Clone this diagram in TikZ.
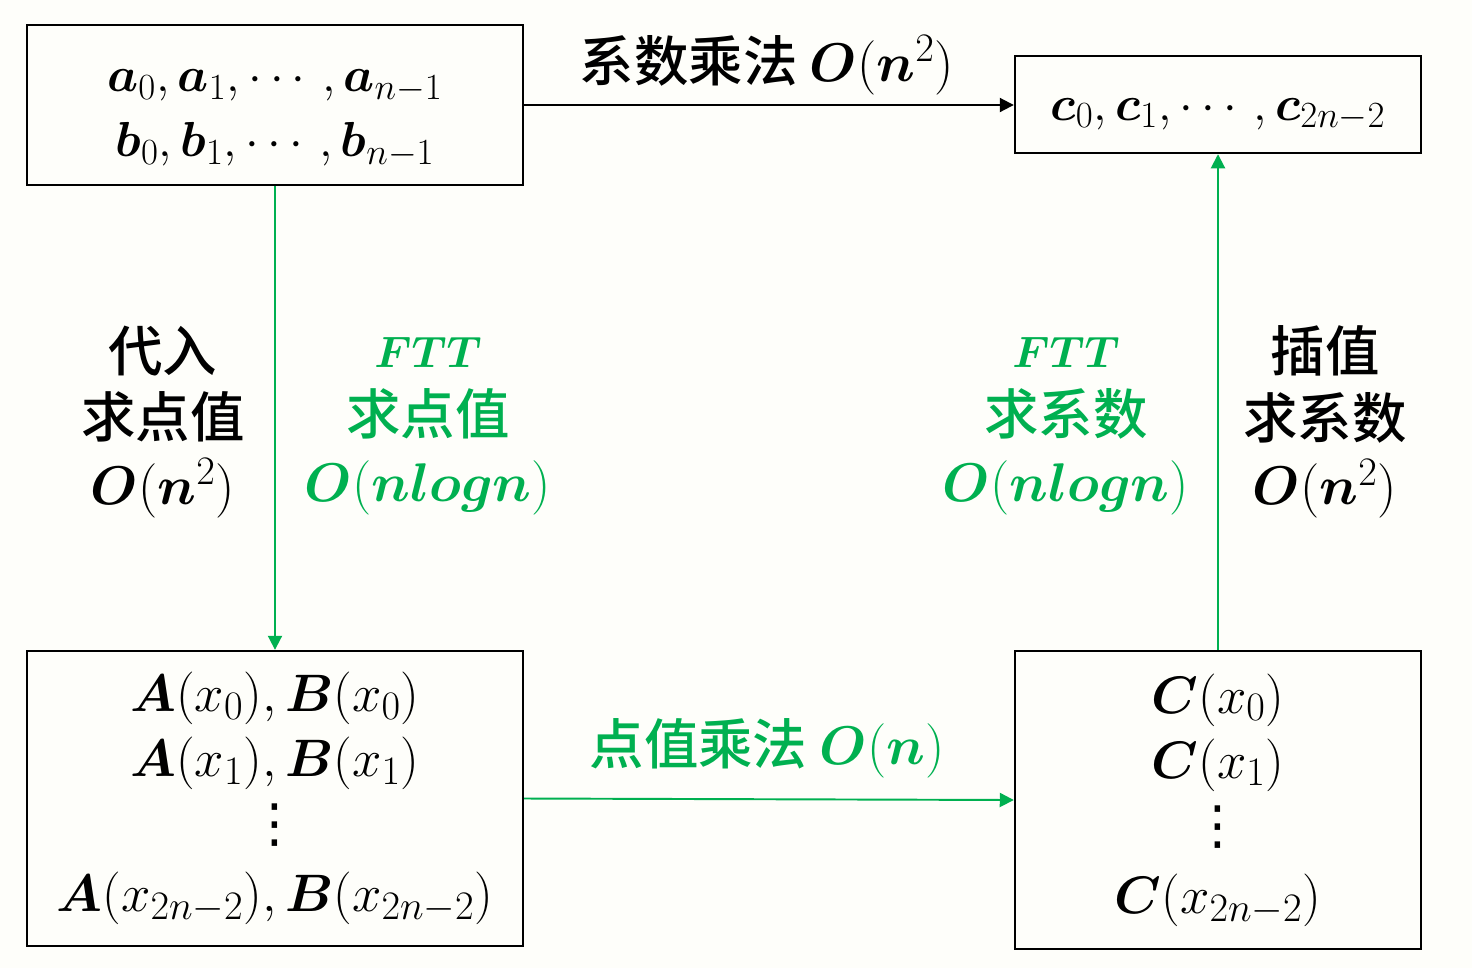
\RequirePackage{fix-cm}
\documentclass[tikz,border=0pt]{standalone}
\usepackage{amsmath,bm}
\usepackage{fontspec}
\newfontfamily\cjk{Noto Sans CJK SC Medium}
\newfontfamily\symbfont{DejaVu Sans}
\usetikzlibrary{arrows.meta,positioning}
\definecolor{fftgreen}{RGB}{0,176,80}
\definecolor{paper}{RGB}{254,254,250}
\DeclareMathSizes{25}{25}{19}{14}
\DeclareMathSizes{28}{28}{21}{15}
\DeclareMathSizes{30}{30}{23}{17}
\DeclareMathSizes{31}{31}{23}{17}
\newcommand{\cost}[1]{{\fontsize{31}{38}\selectfont$#1$}}
\newcommand{\fttname}{{\fontsize{25}{38}\selectfont$\bm{FTT}$}}
\newcommand{\tallvdots}{{\symbfont\fontsize{30}{30}\selectfont ⋮}}

\begin{document}
\begin{tikzpicture}[x=0.02cm,y=-0.02cm,line width=1.1pt,
                    >={Triangle[length=8pt,width=8pt]},
                    value box/.style={draw,line width=1.4pt,rectangle,inner sep=0pt,
                                      align=center,font=\fontsize{28}{37}\selectfont},
                    point box/.style={value box,font=\fontsize{30}{37}\selectfont},
                    step label/.style={align=center,font=\cjk\fontsize{31}{38}\selectfont},
                    green step/.style={step label,text=fftgreen}]

  \fill[paper] (0,0) rectangle (1472,968);

  % boxes
  \node[value box,minimum width=9.92cm,minimum height=3.2cm] (coef) at (275,105)
    {\rule{0pt}{28pt}$\bm{a}_0,\bm{a}_1,\cdots,\bm{a}_{n-1}$\\
     $\bm{b}_0,\bm{b}_1,\cdots,\bm{b}_{n-1}$};
  \node[value box,minimum width=8.12cm,minimum height=1.94cm] (res) at (1218,104.5)
    {\rule{0pt}{24pt}$\bm{c}_0,\bm{c}_1,\cdots,\bm{c}_{2n-2}$};
  \node[point box,minimum width=9.92cm,minimum height=5.9cm] (pv) at (275,798.5)
    {$\bm{A}(x_0),\bm{B}(x_0)$\\
     $\bm{A}(x_1),\bm{B}(x_1)$\\
     \tallvdots\\[3pt]
     $\bm{A}(x_{2n-2}),\bm{B}(x_{2n-2})$};
  \node[point box,minimum width=8.12cm,minimum height=5.96cm] (pvres) at (1218,800)
    {$\bm{C}(x_0)$\\
     $\bm{C}(x_1)$\\
     \tallvdots\\[3pt]
     $\bm{C}(x_{2n-2})$};

  % labels
  \node[step label] (mul) at (767,65) {系数乘法 \cost{\bm{O}(\bm{n}^2)}};
  \node[green step] (pmul) at (767,748) {点值乘法 \cost{\bm{O}(\bm{n})}};
  \node[step label] (eval) at (163,422) {代入\\求点值\\\cost{\bm{O}(\bm{n}^2)}};
  \node[green step] (feval) at (428,426) {\fttname\\求点值\\\cost{\bm{O}(\bm{nlogn})}};
  \node[green step] (finter) at (1066,426) {\fttname\\求系数\\\cost{\bm{O}(\bm{nlogn})}};
  \node[step label] (inter) at (1325,422) {插值\\求系数\\\cost{\bm{O}(\bm{n}^2)}};

  % arrows
  \draw[->] (coef.east) -- (coef.east -| res.west);
  \draw[->,fftgreen] (coef.south) -- (pv.north);
  \draw[->,fftgreen] (pv.east) -- (pvres.west);
  \draw[->,fftgreen] (pvres.north) -- (res.south);
\end{tikzpicture}
\end{document}
